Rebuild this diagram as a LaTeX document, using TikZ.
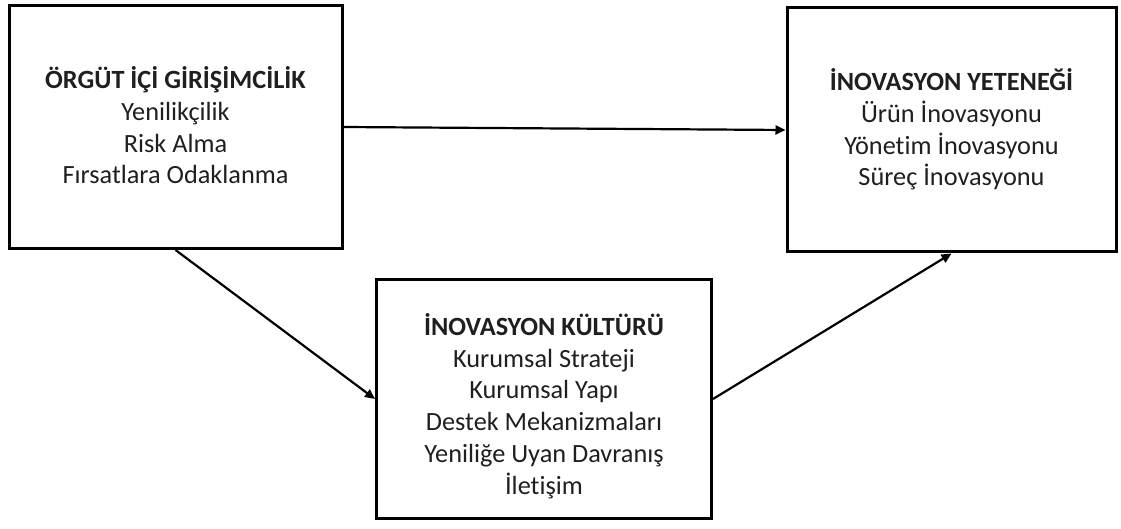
\documentclass[tikz,border=0pt]{standalone}
\usepackage{fontspec}
\setmainfont[Ligatures=NoCommon]{Carlito}
\usetikzlibrary{arrows.meta}
\begin{document}
\begin{tikzpicture}[x=1pt,y=-1pt,
  box/.style={draw=black,line width=3pt,rectangle,inner sep=0pt},
  txt/.style={align=center,font=\fontsize{26.3}{31.7}\selectfont,text=black!88,inner sep=0pt},
  link/.style={draw=black,line width=2.2pt,-{Triangle[length=10pt,width=9pt]}}]
  \useasboundingbox (0,0) rectangle (1121,529);
  % three construct boxes
  \node[box,minimum width=333pt,minimum height=243pt] (oig) at (175.5,127) {};
  \node[box,minimum width=329pt,minimum height=244pt] (iy) at (951.5,130) {};
  \node[box,minimum width=335pt,minimum height=239pt] (ik) at (544,399) {};
  % box contents
  \node[txt] (oigt) at (175.5,125.5) {\textbf{ÖRGÜT İÇİ GİRİŞİMCİLİK}\\Yenilikçilik\\Risk Alma\\Fırsatlara Odaklanma};
  \node[txt] (iyt) at (951.5,129.5) {\textbf{İNOVASYON YETENEĞİ}\\Ürün İnovasyonu\\Yönetim İnovasyonu\\Süreç İnovasyonu};
  \node[txt] (ikt) at (544,406) {\textbf{İNOVASYON KÜLTÜRÜ}\\Kurumsal Strateji\\Kurumsal Yapı\\Destek Mekanizmaları\\Yeniliğe Uyan Davranış\\İletişim};
  % relationships
  \draw[link] (oig.east) -- (iy.west);
  \draw[link] (oig.south) -- (ik.west);
  \draw[link] (ik.east) -- (iy.south);
\end{tikzpicture}
\end{document}
